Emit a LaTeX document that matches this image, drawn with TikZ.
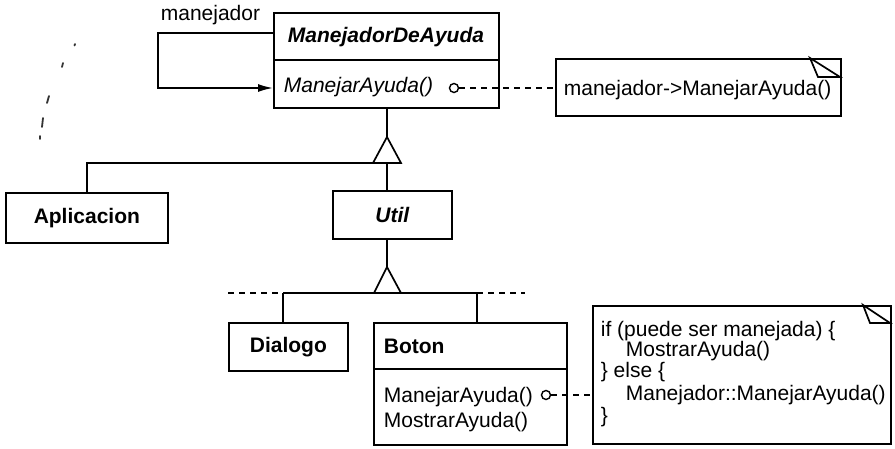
\documentclass[tikz,border=0pt]{standalone}
\usepackage{fontspec}
\setmainfont{Liberation Sans}
\usetikzlibrary{arrows.meta}
\begin{document}
\begin{tikzpicture}[x=1pt,y=-1pt,line width=1.7pt,
  box/.style={draw,inner sep=0pt,anchor=north west},
  lbl/.style={inner sep=0pt,font=\fontsize{21}{20}\selectfont},
  lblw/.style={lbl,anchor=west},
  dline/.style={dash pattern=on 6pt off 5pt},
  opcirc/.style={circle,draw,inner sep=0pt,minimum size=9pt,line width=1.4pt},
  speck/.style={line width=1.8pt,line cap=round,black!80}]
\useasboundingbox (0,0) rectangle (895,449);

% ManejadorDeAyuda
\node[box,minimum width=225pt,minimum height=95pt] (mda) at (273,12) {};
\draw ([yshift=-48pt]mda.north west) -- ([yshift=-48pt]mda.north east);
\node[lbl,font=\fontsize{21}{20}\selectfont\bfseries\itshape] (mdaname) at (386,37) {ManejadorDeAyuda};
\node[lblw] (mdaop) at (283,87) {\itshape ManejarAyuda()};
\node[opcirc] (c1) at (454,88) {};

% self association
\node[lblw] (mgr) at (160,15) {manejador};
\coordinate (la) at (158,33);
\coordinate (lb) at (158,88);
\draw[-{Latex[length=15pt,width=8pt]}] (mda.west |- la) -- (la) -- (lb) -- (mda.west |- lb);

% note 1
\node[box,minimum width=285pt,minimum height=57pt] (n1) at (555,58) {};
\node[lblw] (n1t) at (563,90) {manejador->ManejarAyuda()};
\draw (810,58) -- (818,77) -- (840,77) -- cycle;
\draw[dline] (c1.east) -- (n1.west |- c1.east);

% left marks
\draw[speck] (75,44) -- (74.5,45.5);
\draw[speck] (63,63) -- (62,67);
\draw[speck] (49,96) -- (47,103);
\draw[speck] (43,118) -- (42,127);
\draw[speck] (40,136) -- (40,139);

% inheritance 1
\coordinate (t1a) at (387,137);
\coordinate (t1l) at (373,163);
\coordinate (t1r) at (401,163);
\coordinate (t1m) at (387,163);
\draw (t1a |- mda.south) -- (t1a);
\draw (t1a) -- (t1l) -- (t1r) -- cycle;

% Aplicacion
\node[box,minimum width=162pt,minimum height=50pt] (apl) at (5,192) {};
\node[lbl,font=\fontsize{21}{20}\selectfont\bfseries] (aplt) at (apl.center) {Aplicacion};
\coordinate (ja) at (87,163);
\draw (apl.north -| ja) -- (ja) -- (t1l);

% Util
\node[box,minimum width=119pt,minimum height=48pt] (util) at (332,190) {};
\node[lbl,font=\fontsize{21}{20}\selectfont\bfseries\itshape] (utilt) at (util.center) {Util};
\draw (t1m) -- (util.north -| t1m);

% inheritance 2
\coordinate (t2a) at (387,267);
\coordinate (t2l) at (374,293);
\coordinate (t2r) at (401,293);
\draw (t2a |- util.south) -- (t2a);
\draw (t2a) -- (t2l) -- (t2r) -- cycle;
\coordinate (hl) at (283,293);
\coordinate (hr) at (477,293);
\coordinate (hll) at (228,293);
\coordinate (hrr) at (525,293);
\draw (hl) -- (hr);
\draw[dline] (hll) -- (hl);
\draw[dline] (hr) -- (hrr);

% Dialogo
\node[box,minimum width=119pt,minimum height=48pt] (dlg) at (228,322) {};
\node[lbl,font=\fontsize{21}{20}\selectfont\bfseries] (dlgt) at (dlg.center) {Dialogo};
\draw (hl) -- (dlg.north -| hl);

% Boton
\node[box,minimum width=193pt,minimum height=122pt] (bot) at (373,322) {};
\draw ([yshift=-47pt]bot.north west) -- ([yshift=-47pt]bot.north east);
\node[lblw,font=\fontsize{21}{20}\selectfont\bfseries] (bott) at (383,346) {Boton};
\node[lblw] (botop1) at (383,397) {ManejarAyuda()};
\node[lblw] (botop2) at (383,422) {MostrarAyuda()};
\node[opcirc] (c2) at (546,395) {};
\draw (hr) -- (bot.north -| hr);

% note 2
\node[box,minimum width=298pt,minimum height=138pt] (n2) at (592,305) {};
\draw (863,305) -- (870,323) -- (890,323) -- cycle;
\draw[dline] (c2.east) -- (n2.west |- c2.east);
\node[lblw] (n2l1) at (600,331) {if (puede ser manejada) \{};
\node[lblw] (n2l2) at (625,351) {MostrarAyuda()};
\node[lblw] (n2l3) at (600,372) {\} else \{};
\node[lblw] (n2l4) at (625,395) {Manejador::ManejarAyuda()};
\node[lblw] (n2l5) at (600,417) {\}};
\end{tikzpicture}
\end{document}
